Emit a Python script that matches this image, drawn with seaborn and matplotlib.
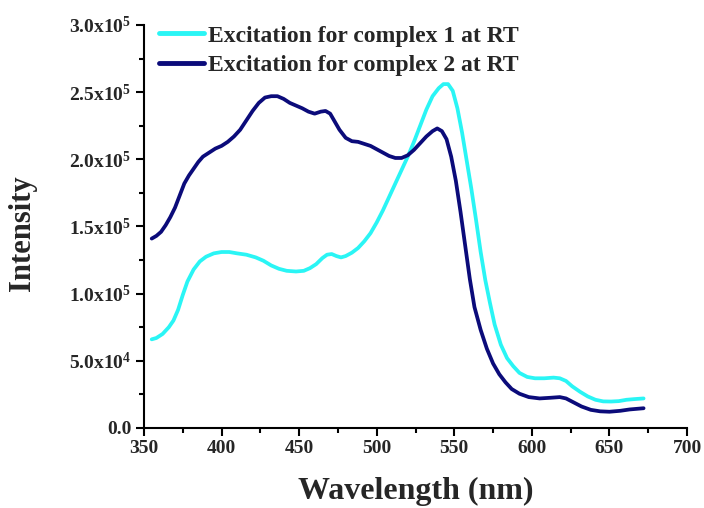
import numpy as np
import pandas as pd
import matplotlib
matplotlib.use("Agg")
import matplotlib.pyplot as plt
from matplotlib.ticker import FixedLocator, FixedFormatter, MultipleLocator
import seaborn as sns

# Excitation spectrum of complex 1 (room temperature), intensity in units of 1e5
wl_c1 = [355, 358, 362, 366, 369, 372, 375, 378, 382, 386, 390, 395, 400, 405,
         410, 416, 422, 427, 432, 437, 442, 448, 453, 457, 461, 465, 468, 471,
         474, 477, 480, 484, 488, 492, 496, 500, 504, 508, 512, 516, 520, 524,
         528, 532, 536, 540, 543, 546, 549, 552, 555, 558, 561, 564, 567, 570,
         573, 576, 580, 584, 588, 592, 597, 602, 608, 614, 618, 622, 626, 631,
         636, 641, 646, 651, 656, 661, 666, 672]
int_c1 = [0.66, 0.67, 0.70, 0.75, 0.80, 0.88, 0.99, 1.09, 1.18, 1.24, 1.275,
          1.30, 1.31, 1.31, 1.30, 1.29, 1.27, 1.245, 1.21, 1.185, 1.17, 1.165,
          1.17, 1.19, 1.22, 1.265, 1.29, 1.295, 1.28, 1.27, 1.28, 1.305, 1.34,
          1.39, 1.45, 1.53, 1.62, 1.72, 1.82, 1.92, 2.02, 2.13, 2.25, 2.37,
          2.47, 2.53, 2.56, 2.56, 2.51, 2.38, 2.20, 1.99, 1.78, 1.55, 1.31,
          1.10, 0.93, 0.77, 0.62, 0.52, 0.46, 0.41, 0.38, 0.37, 0.37, 0.375,
          0.37, 0.35, 0.31, 0.27, 0.235, 0.21, 0.198, 0.197, 0.20, 0.21, 0.215,
          0.22]

# Excitation spectrum of complex 2 (room temperature), intensity in units of 1e5
wl_c2 = [355, 358, 361, 364, 367, 370, 373, 376, 379, 382, 385, 388, 392, 396,
         400, 404, 408, 412, 416, 420, 424, 428, 432, 436, 440, 444, 448, 452,
         456, 460, 464, 467, 470, 473, 476, 480, 484, 488, 492, 496, 500, 504,
         508, 512, 516, 520, 524, 528, 532, 536, 539, 542, 545, 548, 551, 554,
         557, 560, 563, 567, 571, 575, 579, 583, 587, 592, 598, 605, 612, 618,
         622, 627, 632, 638, 644, 650, 657, 663, 672]
int_c2 = [1.41, 1.43, 1.46, 1.51, 1.57, 1.64, 1.73, 1.82, 1.88, 1.93, 1.98,
          2.02, 2.05, 2.08, 2.10, 2.13, 2.17, 2.22, 2.29, 2.36, 2.42, 2.46,
          2.47, 2.47, 2.45, 2.42, 2.40, 2.38, 2.355, 2.34, 2.355, 2.36, 2.34,
          2.28, 2.22, 2.16, 2.135, 2.13, 2.115, 2.10, 2.075, 2.05, 2.025, 2.01,
          2.01, 2.03, 2.07, 2.12, 2.17, 2.21, 2.23, 2.21, 2.15, 2.02, 1.84,
          1.61, 1.36, 1.11, 0.90, 0.73, 0.59, 0.48, 0.40, 0.34, 0.29, 0.255,
          0.23, 0.22, 0.225, 0.23, 0.22, 0.19, 0.16, 0.135, 0.124, 0.121, 0.128,
          0.138, 0.147]

series_names = ["Excitation for complex 1 at RT", "Excitation for complex 2 at RT"]
series_colors = ["#2af5f5", "#0b0b7a"]

x_ticks = [350, 400, 450, 500, 550, 600, 650, 700]
y_ticks = [0, 5e4, 1e5, 1.5e5, 2e5, 2.5e5, 3e5]
y_tick_labels = ["0.0", "5.0x10$^{4}$", "1.0x10$^{5}$", "1.5x10$^{5}$",
                 "2.0x10$^{5}$", "2.5x10$^{5}$", "3.0x10$^{5}$"]

df = pd.concat([
    pd.DataFrame({"Wavelength": wl_c1, "Intensity": np.array(int_c1) * 1e5,
                  "Series": series_names[0]}),
    pd.DataFrame({"Wavelength": wl_c2, "Intensity": np.array(int_c2) * 1e5,
                  "Series": series_names[1]}),
], ignore_index=True)

sns.set_theme(style="ticks")
plt.rcParams["font.family"] = ["Liberation Serif", "DejaVu Serif"]
plt.rcParams["font.weight"] = "bold"
plt.rcParams["mathtext.fontset"] = "custom"
plt.rcParams["mathtext.rm"] = "Liberation Serif:bold"
plt.rcParams["mathtext.default"] = "rm"

fig = plt.figure(figsize=(7.04, 5.08), dpi=100)
ax = fig.add_axes([0.2045, 0.1575, 0.7714, 0.7933])

sns.lineplot(data=df, x="Wavelength", y="Intensity", hue="Series",
             hue_order=series_names, palette=series_colors, linewidth=2.7,
             ax=ax, sort=True, estimator=None)
for ln in ax.get_lines():
    ln.set_solid_joinstyle("round")
    ln.set_solid_capstyle("round")

ax.set_xlim(350, 700)
ax.set_ylim(0, 3e5)
ax.xaxis.set_major_locator(FixedLocator(x_ticks))
ax.xaxis.set_minor_locator(MultipleLocator(25))
ax.yaxis.set_major_locator(FixedLocator(y_ticks))
ax.yaxis.set_major_formatter(FixedFormatter(y_tick_labels))
ax.yaxis.set_minor_locator(MultipleLocator(2.5e4))

for side in ["top", "right"]:
    ax.spines[side].set_visible(False)
for side in ["left", "bottom"]:
    ax.spines[side].set_linewidth(1.5)
    ax.spines[side].set_color("black")

ax.tick_params(which="major", direction="out", length=6, width=1.5,
               color="black", labelsize=14, pad=3)
ax.tick_params(which="minor", direction="out", length=3.5, width=1.5,
               color="black")
for lbl in ax.get_xticklabels() + ax.get_yticklabels():
    lbl.set_fontweight("bold")

ax.set_xlabel("Wavelength (nm)", fontsize=23, fontweight="bold", labelpad=14)
ax.set_ylabel("Intensity", fontsize=22, fontweight="bold")
ax.yaxis.set_label_coords(-0.197, 0.483)

leg = ax.legend(loc="upper left", bbox_to_anchor=(0.01, 1.023), frameon=False,
                fontsize=17, handlelength=1.9, handletextpad=0.2,
                labelspacing=0.32, borderaxespad=0)
for t in leg.get_texts():
    t.set_fontweight("bold")
for h in leg.get_lines():
    h.set_linewidth(3.5)

fig.savefig("out.png", dpi=100, facecolor="white")
